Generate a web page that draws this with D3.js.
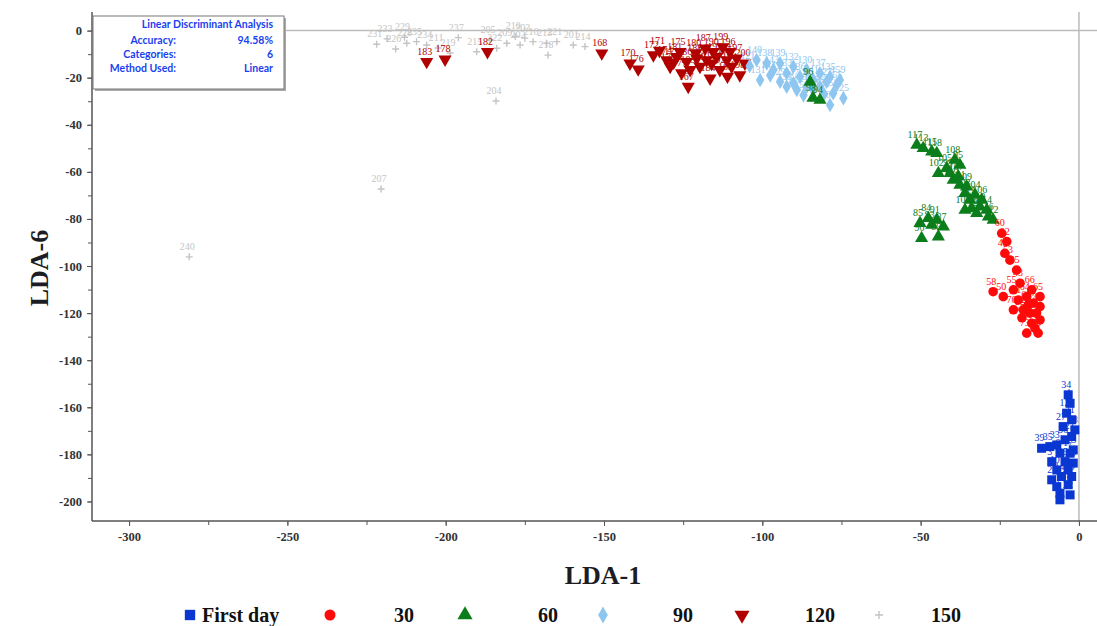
<!DOCTYPE html>
<html>
<head>
<meta charset="utf-8">
<script src="https://d3js.org/d3.v7.min.js"></script>
<style>
  body { margin: 0; background: #fff; }
  .tick text { font-family: "Liberation Serif", "Times New Roman", serif; font-weight: bold; font-size: 12.5px; fill: #333; }
  .lbl { font-family: "Liberation Serif", "Times New Roman", serif; font-size: 10px; }
  .info { font-family: Lato, "Open Sans", sans-serif; font-weight: bold; font-size: 10.5px; fill: #1a3ff0; }
</style>
</head>
<body>
<div id="chart"></div>
<script>
// chart data
var groupNames = ["First day", "30", "60", "90", "120", "150"];

var blueX = [-3.4,-2.8,-3.9,-2.3,-5.0,-11.8,-9.2,-7.0,-4.4,-2.3,-6.0,-2.8,-8.6,-4.4,-1.8,-7.0,-3.4,-8.6,-5.5,-2.3,-7.0,-3.4,-6.0,-2.8,-6.0,-1.8,-1.3];
var blueY = [-154.7,-158.3,-162.5,-165.3,-168.2,-177.4,-176.7,-176.0,-173.8,-172.4,-179.5,-179.5,-183.1,-183.1,-183.7,-186.6,-186.6,-190.8,-189.4,-189.4,-193.7,-192.9,-196.5,-197.2,-199.3,-178.1,-169.6];
var blueIds = ["34","4","12","31","27","39","35","33","36","21","8","17","3","25","19","10","6","2","14","29","7","15","1","22","9","23","38"];

var redX = [-24.4,-22.8,-23.4,-21.8,-19.7,-27.1,-23.9,-20.7,-18.6,-19.2,-16.5,-14.9,-14.4,-20.7,-17.6,-15.5,-13.4,-12.3,-14.9,-13.9,-16.5,-12.9,-12.3,-12.3,-18.0,-16.0];
var redY = [-86.1,-89.6,-94.6,-97.5,-101.7,-110.9,-113.0,-110.1,-107.3,-114.4,-113.0,-110.1,-115.8,-118.6,-118.6,-120.0,-120.0,-122.9,-124.3,-126.4,-128.5,-128.5,-117.2,-113.0,-122.0,-116.5];
var redIds = ["60","62","49","53","45","58","50","55","43","71","64","66","47","70","52","74","61","77","68","79","73","76","42","65","57","69"];

var greenX = [-51.2,-49.2,-46.5,-44.9,-44.4,-41.8,-40.7,-39.7,-38.1,-37.6,-36.0,-35.5,-34.4,-32.8,-31.3,-30.7,-29.1,-27.1,-28.6,-36.0,-33.9,-32.3,-37.6,-39.2,-50.2,-47.6,-44.9,-42.8,-49.7,-44.4,-46.5,-84.9,-84.0,-81.8];
var greenY = [-48.6,-50.0,-51.4,-52.1,-60.6,-58.5,-60.6,-63.4,-62.0,-65.6,-69.1,-66.3,-71.9,-69.8,-74.8,-71.9,-76.2,-80.4,-79.0,-76.2,-75.5,-77.6,-57.1,-54.9,-81.8,-79.7,-80.4,-83.3,-88.2,-87.5,-82.5,-21.8,-28.6,-29.5];
var greenIds = ["117","113","115","118","102","105","99","110","107","101","103","109","111","104","119","106","114","112","116","100","97","120","95","108","85","84","91","87","90","89","93","96","98","94"];

var lblueX = [-101.8,-98.6,-100.7,-96.5,-94.4,-92.3,-90.2,-88.1,-86.0,-83.9,-81.8,-79.7,-77.6,-74.4,-78.6,-83.9,-89.1,-92.3,-94.4,-90.2,-86.0,-81.8,-78.6,-76.5,-104.0,-97.5,-87.0,-80.5,-75.5];
var lblueY = [-12.5,-13.9,-21.0,-16.7,-21.7,-18.1,-22.4,-19.6,-23.8,-21.0,-23.8,-21.7,-26.6,-28.7,-31.6,-25.2,-25.2,-23.8,-13.9,-15.3,-16.7,-18.1,-19.6,-23.1,-15.0,-19.0,-27.5,-27.0,-21.0];
var lblueIds = ["140","138","131","143","129","133","147","136","150","141","152","127","158","125","160","149","145","153","139","132","130","137","135","155","121","144","156","148","159"];

var dredX = [-206.0,-200.2,-186.8,-150.7,-141.8,-139.2,-134.4,-130.2,-127.0,-123.9,-120.7,-117.6,-114.4,-111.2,-108.1,-129.1,-122.8,-119.7,-116.5,-113.4,-109.7,-107.1,-123.4,-105.5,-126.0,-115.5,-110.2,-132.5,-118.0,-112.5,-121.0,-128.0,-125.5,-116.0,-111.0];
var dredY = [-13.2,-12.2,-9.0,-9.6,-13.9,-16.4,-10.4,-12.5,-11.1,-13.2,-11.8,-12.5,-11.1,-12.5,-11.8,-15.3,-16.7,-15.3,-20.3,-16.7,-15.3,-18.9,-23.8,-13.9,-9.0,-9.0,-9.0,-8.5,-7.5,-7.0,-9.5,-13.5,-18.0,-14.0,-19.5];
var dredIds = ["183","178","182","168","170","176","172","174","181","186","188","191","193","195","197","179","185","189","184","192","194","198","167","200","175","190","196","171","187","199","180","173","177","169","163"];

var grayX = [-281.0,-220.4,-184.1,-221.8,-215.8,-212.3,-209.2,-206.0,-202.4,-198.6,-190.2,-183.9,-180.7,-176.5,-172.4,-168.1,-167.7,-164.9,-159.7,-156.0,-218.5,-213.0,-196.0,-186.0,-178.0,-175.0];
var grayY = [-96.1,-67.3,-29.9,-5.8,-7.8,-5.4,-4.7,-6.1,-7.4,-9.5,-9.0,-7.5,-5.4,-6.1,-4.7,-5.4,-10.4,-4.7,-6.1,-6.8,-3.5,-2.8,-3.0,-4.0,-2.5,-3.2];
var grayIds = ["240","207","204","231","226","228","235","234","211","219","215","222","209","202","216","213","218","221","201","214","233","229","237","205","210","203"];

var colors = ["#0a36d2", "#ff0a0a", "#0b7d1a", "#8ec6f0", "#b00000", "#c4c4c4"];

var groups = [
  {x: blueX, y: blueY, ids: blueIds},
  {x: redX, y: redY, ids: redIds},
  {x: greenX, y: greenY, ids: greenIds},
  {x: lblueX, y: lblueY, ids: lblueIds},
  {x: dredX, y: dredY, ids: dredIds},
  {x: grayX, y: grayY, ids: grayIds}
];

var xTicks = [-300, -250, -200, -150, -100, -50, 0];
var yTicks = [0, -20, -40, -60, -80, -100, -120, -140, -160, -180, -200];

var infoKeys = ["Accuracy:", "Categories:", "Method Used:"];
var infoVals = ["94.58%", "6", "Linear"];

// set up chart
var svgWidth = 1097;
var svgHeight = 626;

var plot = { left: 92, right: 1097, top: 12, bottom: 521 };

var svg = d3.select("#chart")
  .append("svg")
  .attr("width", svgWidth)
  .attr("height", svgHeight);

var xScale = d3.scaleLinear().domain([-311.7, 5.7]).range([plot.left, plot.right]);
var yScale = d3.scaleLinear().domain([7.9, -208.3]).range([plot.top, plot.bottom]);

// zero lines
svg.append("line")
  .attr("x1", plot.left).attr("x2", plot.right)
  .attr("y1", yScale(0)).attr("y2", yScale(0))
  .attr("stroke", "#bbb").attr("stroke-width", 1.5);
svg.append("line")
  .attr("x1", xScale(0)).attr("x2", xScale(0))
  .attr("y1", plot.top).attr("y2", plot.bottom)
  .attr("stroke", "#bbb").attr("stroke-width", 1.5);

// axes with minor ticks
var xMinor = svg.append("g")
  .attr("transform", `translate(0, ${plot.bottom})`)
  .call(d3.axisBottom(xScale).tickValues(d3.range(-300, 1, 25)).tickSize(4).tickFormat(""));
var xAxis = svg.append("g")
  .attr("transform", `translate(0, ${plot.bottom})`)
  .call(d3.axisBottom(xScale).tickValues(xTicks).tickSize(5).tickSizeOuter(0).tickPadding(6).tickFormat(d => String(d)));

var yMinor = svg.append("g")
  .attr("transform", `translate(${plot.left}, 0)`)
  .call(d3.axisLeft(yScale).tickValues(d3.range(0, -201, -10)).tickSize(4).tickFormat(""));
var yAxis = svg.append("g")
  .attr("transform", `translate(${plot.left}, 0)`)
  .call(d3.axisLeft(yScale).tickValues(yTicks).tickSize(5).tickSizeOuter(0).tickPadding(5).tickFormat(d => String(d)));

[xMinor, xAxis, yMinor, yAxis].forEach(function(a) {
  a.selectAll("path").remove();
  a.selectAll("line").attr("stroke", "#555");
});

// axis frame lines
svg.append("line")
  .attr("x1", plot.left).attr("x2", plot.right)
  .attr("y1", plot.bottom).attr("y2", plot.bottom)
  .attr("stroke", "#555").attr("stroke-width", 1.5);
svg.append("line")
  .attr("x1", plot.left).attr("x2", plot.left)
  .attr("y1", plot.top).attr("y2", plot.bottom)
  .attr("stroke", "#555").attr("stroke-width", 1.5);

// marker shapes
function drawMarker(sel, gi, size) {
  var s = size || 1;
  if (gi === 0) {
    return sel.append("rect").attr("x", -4.5 * s).attr("y", -4.5 * s).attr("width", 9 * s).attr("height", 9 * s).attr("fill", colors[0]);
  } else if (gi === 1) {
    return sel.append("circle").attr("r", 4.8 * s).attr("fill", colors[1]);
  } else if (gi === 2) {
    return sel.append("path").attr("d", d3.symbol().type(d3.symbolTriangle).size(75 * s * s)()).attr("fill", colors[2]);
  } else if (gi === 3) {
    return sel.append("path").attr("d", d3.symbol().type(d3.symbolDiamond).size(62 * s * s)()).attr("fill", colors[3]);
  } else if (gi === 4) {
    return sel.append("path").attr("d", d3.symbol().type(d3.symbolTriangle).size(75 * s * s)())
      .attr("transform", "rotate(180)").attr("fill", colors[4]);
  } else {
    return sel.append("path").attr("d", `M${-3.5 * s},0H${3.5 * s}M0,${-3.5 * s}V${3.5 * s}`)
      .attr("stroke", colors[5]).attr("stroke-width", 1.4).attr("fill", "none");
  }
}

// draw order: gray, dark red, light blue, green, red, blue
var order = [5, 4, 3, 2, 1, 0];

order.forEach(function(gi) {
  var g = groups[gi];
  var pts = g.x.map(function(v, i) { return {x: v, y: g.y[i], id: g.ids[i]}; });

  var layer = svg.append("g");

  // point labels first, markers over them
  layer.selectAll("text")
    .data(pts)
    .enter()
    .append("text")
    .attr("class", "lbl")
    .attr("x", d => xScale(d.x) - 2)
    .attr("y", d => yScale(d.y) - 7)
    .attr("text-anchor", "middle")
    .attr("fill", colors[gi])
    .text(d => d.id);

  layer.selectAll("g.pt")
    .data(pts)
    .enter()
    .append("g")
    .attr("class", "pt")
    .attr("transform", d => `translate(${xScale(d.x)}, ${yScale(d.y)})`)
    .each(function() { drawMarker(d3.select(this), gi); });
});

// info box
svg.append("rect")
  .attr("x", 95).attr("y", 18).attr("width", 191).attr("height", 73)
  .attr("fill", "#aaa");
svg.append("rect")
  .attr("x", 93).attr("y", 16).attr("width", 191).attr("height", 73)
  .attr("fill", "#fff").attr("stroke", "#777").attr("stroke-width", 1);

svg.append("text")
  .attr("class", "info")
  .attr("x", 273).attr("y", 28)
  .attr("text-anchor", "end")
  .text("Linear Discriminant Analysis");

infoKeys.forEach(function(k, i) {
  svg.append("text").attr("class", "info")
    .attr("x", 176).attr("y", 44 + i * 14)
    .attr("text-anchor", "end").text(k);
  svg.append("text").attr("class", "info")
    .attr("x", 273).attr("y", 44 + i * 14)
    .attr("text-anchor", "end").text(infoVals[i]);
});

// axis titles
svg.append("text")
  .attr("x", 603).attr("y", 584)
  .attr("text-anchor", "middle")
  .style("font-family", "'Liberation Serif', 'Times New Roman', serif")
  .style("font-weight", "bold").style("font-size", "26px")
  .attr("fill", "#1c1c24")
  .text("LDA-1");

svg.append("text")
  .attr("transform", "translate(48, 268) rotate(-90)")
  .attr("text-anchor", "middle")
  .style("font-family", "'Liberation Serif', 'Times New Roman', serif")
  .style("font-weight", "bold").style("font-size", "26px")
  .attr("fill", "#1c1c24")
  .text("LDA-6");

// legend
var legMarkX = [190, 330, 465, 603, 742, 879];
var legTextX = [202, 404, 548, 683, 820, 946];
var legend = svg.append("g");

groupNames.forEach(function(name, i) {
  var m = legend.append("g").attr("transform", `translate(${legMarkX[i]}, 615)`);
  drawMarker(m, i, 1.15);
  legend.append("text")
    .attr("x", legTextX[i]).attr("y", 622)
    .attr("text-anchor", i === 0 ? "start" : "middle")
    .style("font-family", "'Liberation Serif', 'Times New Roman', serif")
    .style("font-weight", "bold").style("font-size", "20px")
    .attr("fill", "#111")
    .text(name);
});
</script>
</body>
</html>
